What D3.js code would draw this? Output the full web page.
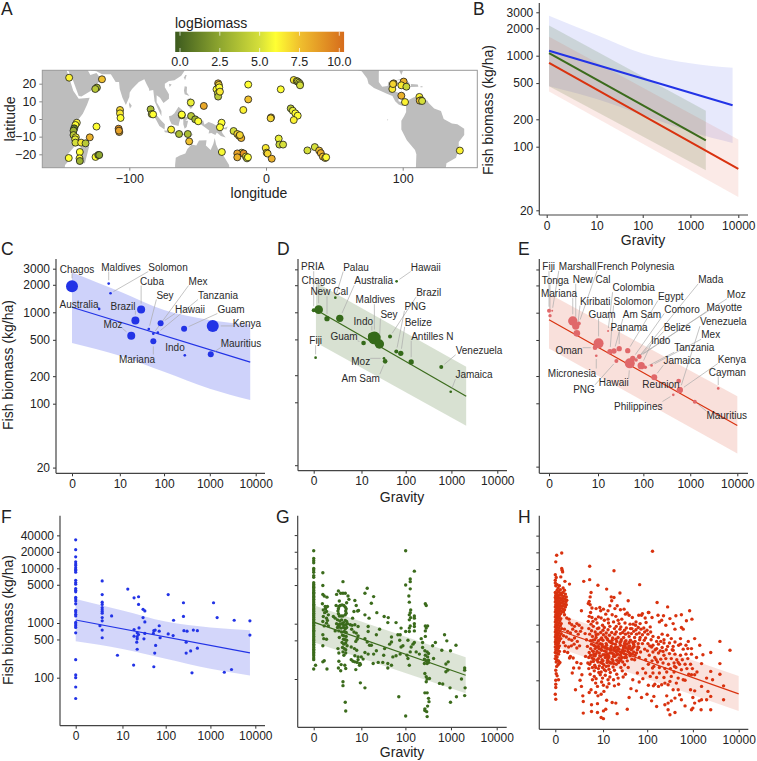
<!DOCTYPE html>
<html><head><meta charset="utf-8">
<script src="https://cdn.jsdelivr.net/npm/d3@7"></script>
<style>body{margin:0;background:#fff}svg{display:block}text{font-family:"Liberation Sans",Arial,sans-serif}</style>
</head><body><svg id="c" width="757" height="761"></svg>
<script>
// ---------- DATA ----------
const gravityTicks=[0,10,100,1000,10000];
const biomassTicksTop=[3000,2000,1000,500,200,100,20];
const biomassTicksBottom=[40000,20000,10000,5000,1000,500,100];
const lonTicks=[-100,0,100], latTicks=[20,10,0,-10,-20];
const legendTicks=[0,2.5,5,7.5,10];
const colourValues=[-0.3,2.5,5,6,7.5,10.3];
const colourStops=["#3c5a1e","#8ea62f","#d5df3a","#ffff33","#f0c02e","#d66c1c"];

// fitted lines and ribbons: gravity knots, fit, lower, upper
const coralGravity=[0,10,100,1000,7600];
const coralFit=[1135,769,539,389,285];
const coralUpper=[2750,1688,1060,825,735];
const coralLower=[462,334,223,146,110];
const rockyGravity=[0,2100];
const rockyFit=[1070,117];
const rockyUpper=[2150,248];
const rockyLower=[462,55];
const macroGravity=[0,10000];
const macroFit=[835,57];
const macroUpper=[1620,120];
const macroLower=[403,28];

// map: sites
const siteLon=[-144,-120,-123.7,-124.9,-106.8,-106.8,-106.4,-84.4,-83.6,-82.6,-138.4,-139.4,-140.3,-140.8,-140.8,-139.1,-139.6,-139.4,-135.2,-132,-128.9,-124,-136.2,-144.3,-136.4,-136.2,-124.7,-122.7,-122,-107.8,-107.3,-107.6,-69.4,-63.6,-57.2,-56.2,-55,-45.5,-61.6,-61.6,-54.8,-51.8,-49.6,-35,-34.5,-36.2,-34.2,-35.2,-35,-33.7,-32.5,-33.7,-32.3,-13,-13,-16.6,-23.7,-21,-19.6,-18.1,-19.1,-17.8,-21,-16.4,-21,-14.7,-13.9,-13.2,-0.2,0.5,1.2,4.2,3.7,3.4,10.8,20.3,22.5,23.2,24.2,24.9,24.9,18.1,19.6,21.5,23.2,20.3,9.3,9.8,12.5,30.3,35.7,38.9,40.1,41.6,43.3,44,93.4,92.4,100.7,99,102.7,92.9,99,101.7,112.2,113.4,112.5,114.2,141.8];
const siteLat=[23.4,22.5,17.8,17,5.1,3.2,0.6,5.5,2.8,2.6,-2.1,-3.4,-5.3,-6.6,-9.1,-10.4,-11.5,-13.4,-13.4,-13.8,-10.4,-4.3,-18.7,-22.1,-22.3,-23.8,-21.5,-20.4,-20.4,-5.5,-7.4,-6.6,-6,-8.5,-8.5,-12.7,9.3,7.4,2.1,2.5,1.7,-0.2,-1.3,20.2,19.3,16.8,17.9,14.5,12.7,15.5,-2.1,-4.7,-18.7,19.5,11.1,5.1,-6.8,-8.5,-9.6,-10.8,-9.1,-19.1,-19.5,-19.5,-21.7,-21.3,-22.3,-21.7,-16.4,-19.1,-19.6,-22.5,0.9,0.4,16.8,22.1,21.5,21.2,20.6,19.8,19.1,6,4.7,3.2,1.9,-0.6,-11.1,-14.5,-14.5,-17.8,-15.9,-17.9,-19.3,-21.3,-22.1,-21.7,20.2,17,21.2,19.1,18.3,19.8,13.2,9.6,12.5,10.6,10.4,10.2,-17.9];
const siteLogBiomass=[6.3,7.5,3.5,4,7,6.5,6,3.5,4.5,6,6.2,6,1,3,4,6,5.5,5,6.5,4,8,6,6,6,6,3,6,3,2.5,9,8,8.5,6.3,3.5,3.5,7.5,5.5,8.3,6.5,6,4,3,6,8,7,6,6,4.5,4,6.5,6,6,5.8,6,7.5,6.3,5,7,7,8,7,6.5,8.5,9,8,6.3,5,6,6.5,6.5,7,8,7.5,7,6,6.5,6.3,5,5,5.5,5,4,5.5,6,6,6.3,5.5,4.5,5,5,5,7.5,8,7.5,7,6,7.5,6.5,8,6.5,4.5,7,8,6.3,6.3,6.5,7.5,5,6.3];

// map: land outlines in [longitude, latitude], longitude centred on the date line
const land=[
[[-172,31],[-147,31],[-146,28],[-143,21],[-141,16],[-137,11.5],[-129,12],[-131,8],[-134,3],[-139,-2],[-140.5,-6],[-140,-10],[-139.5,-15],[-145,-20],[-144.5,-24],[-147,-26],[-147.5,-31],[-172,-31]],
[[-131,-12],[-129.5,-16],[-132.5,-25],[-136,-25],[-136.5,-21],[-135.5,-16]],
[[-145,31],[-145,28],[-141,21.5],[-137,13],[-135,12.8],[-128,16],[-120.5,22.5],[-124,26],[-128.5,25],[-130,27],[-132,31]],
[[-130,31],[-128,27.5],[-124,27],[-120,25.3],[-113.5,25.3],[-112,23.5],[-110,21],[-107.5,21],[-107,17],[-105,12],[-102.5,8],[-100,12.5],[-99.7,15],[-98,17],[-93,21],[-89,22.5],[-87.5,20],[-85.5,17],[-85.5,16],[-82.5,16.5],[-81.5,10],[-79.5,6.5],[-76.5,1.5],[-76.5,4.5],[-78,7],[-80,9.5],[-80,13.5],[-77.5,12],[-75,9],[-71,11.5],[-71,14],[-74,18],[-74,20],[-71,21.5],[-67,22],[-62,24.5],[-59,28],[-59,31]],
[[-100,9.5],[-98.2,7.5],[-99.5,6],[-100.2,8]],
[[-84.7,5.5],[-82,4],[-76.5,-1],[-74,-3],[-74.2,-6],[-78,-4],[-80,-1],[-83,3]],
[[-74.5,-6.5],[-70,-6.5],[-65.5,-7.5],[-65.5,-8.7],[-70,-8],[-74,-7.5]],
[[-64,-8.3],[-60,-8.3],[-60,-9],[-64,-9]],
[[-56,-9.5],[-53,-8.3],[-55,-10],[-56.5,-10.3]],
[[-71,1.5],[-69,2],[-67,3.3],[-64,7],[-61,5],[-62.3,1],[-63.5,-2],[-64,-4],[-69,-3],[-70.5,-0.5]],
[[-60.5,0],[-59.5,1],[-55,1.5],[-59,-1],[-57,-1],[-58,-4.5],[-59.5,-5.5],[-60.5,-3]],
[[-59.5,18.5],[-57.8,18.3],[-58,15],[-56,13],[-59.5,14],[-60,16]],
[[-58,7],[-54.5,9.5],[-53.5,7],[-55,5.7],[-57,7.5]],
[[-58,11],[-55,12],[-55,10.5],[-57.5,9.5]],
[[-59,25],[-58,25],[-59.2,22],[-60,23.5]],
[[-71,20],[-69,19.5],[-70.5,18.2]],
[[-52,1.5],[-51.5,1],[-52,-0.5],[-52.5,0]],
[[-49,-1],[-46,-0.8],[-45,-3.3],[-42,-1.7],[-39,-2.6],[-35,-4.3],[-32.5,-6],[-32,-8],[-29.5,-10.5],[-33,-9.7],[-36,-7.7],[-37,-9],[-40,-8],[-42,-8.2],[-41.5,-6.5],[-46,-4],[-48,-2.8]],
[[-32,-5.5],[-28,-4.2],[-29,-6]],
[[-23,-7],[-20,-9],[-20.5,-9.5],[-23.5,-7.5]],
[[-66.5,-31],[-66.5,-26],[-66,-22],[-63,-20.7],[-59,-19.5],[-57.5,-17],[-54.5,-14.5],[-51,-15],[-49,-12.2],[-43.5,-12],[-44,-15],[-40.5,-17.5],[-38.5,-14],[-37.5,-10.8],[-36.5,-14.5],[-34,-19],[-31,-21],[-29,-23.5],[-27,-26],[-26.5,-31]],
[[-16,-20],[-13,-22],[-14,-22.3]],
[[-2.5,-17.6],[-1.5,-18],[-2.2,-18.3]],
[[24,19.2],[25,20],[24.5,18.9]],
[[66,31],[66,28],[70,27],[74,23],[75,20],[79,17.5],[84,15.8],[88,14.5],[92.5,13],[94.5,10],[97,8.2],[100,7.3],[102,8],[102.5,7],[102.5,4],[101,1.5],[99,-1],[99,-6],[103,-12],[109,-17.5],[110,-20],[109.5,-31],[131.5,-31],[131.5,-28],[132,-25],[139,-22],[141,-17],[141,-13],[145,-9],[145,-5.5],[140,-3],[136,-2.5],[130,0],[128,4.5],[123,6],[119,9],[118,10.5],[112,11],[108.5,12.4],[105,11],[103,8.7],[100,9.3],[97,10],[96.5,15],[92,16],[92.5,21.5],[89.5,21],[89,18.7],[85,18.3],[82.5,21],[82.5,26],[83,31]],
[[96,31],[97.5,27.5],[99,25],[100,27],[100,31]],
[[95,22],[100,23],[105.5,20.3],[102.5,19.8],[98,22]],
[[106,19.8],[111,19.5],[111.5,18.3],[106,18.2]],
[[101.5,18.5],[103,18.5],[103,17.8],[101.5,17.8]],
[[113,18.5],[114.5,18.5],[114.5,18],[113,18]],
[[88.6,-0.2],[89.4,-0.3],[89,-1]]
];

// panel C
const cSites=["Chagos","Maldives","Solomon","Australia","Cuba","Brazil","Moz","Sey","Mariana","Hawaii","Mex","Tanzania","Guam","Indo","Mauritius","Kenya"];
const cGravity=[0,5.3,5.9,2.9,31,23,18.5,46,58,84,58,73,275,285,1050,1160];
const cBiomass=[1926,2060,1615,1088,1070,811,555,657,481,758,584,599,662,338,347,709];
const cSurveys=[36,1.8,1.8,1.8,16,16,16,1.8,9,9,1.8,1.8,9,1.8,9,36];
// panel D
const dSites=["Fiji","PRIA","Chagos","New Cal","Palau","Australia","Guam","Maldives","Sey","Indo","Hawaii","Brazil","PNG","Belize","Antilles N","Venezuela","Jamaica","Moz","Am Sam"];
const dGravity=[0.1,0,0.28,0.95,1.96,2.7,11.2,20,26,17.5,63,45,62,78,132,600,966,33,35];
const dBiomass=[313,1052,1070,850,1455,858,456,519,445,537,2208,537,366,350,281,247,131,308,285];
const dSurveys=[1.8,4,19,7,1.8,13.4,5.4,40,22,16,1.8,4,4,7,7,4,1.8,1.8,5.4];
// panel E
const eSites=["Fiji","Tonga","Marshall","Mariana","New Cal","Kiribati","French Polynesia","Guam","Oman","Micronesia","Colombia","Solomon","Am Sam","Panama","PNG","Hawaii","Egypt","Comoro","Mayotte","Belize","Moz","Mada","Indo","Mex","Tanzania","Jamaica","Reunion","Venezuela","Kenya","Cayman","Philippines","Mauritius"];
const eGravity=[0,0.05,0.17,2.2,2.7,2.9,3.3,10.3,8.5,9.1,17,18.7,23,30,26,51,46,59,82,82,51,70,90,150,110,171,566,600,600,3935,436,1250];
const eBiomass=[1052,927,1052,809,712,592,762,459,411,335,628,371,378,401,293,276,381,313,327,330,285,300,260,262,250,194,176,140,140,146,124,104];
const eSurveys=[4,2.8,1,22,13.4,11,4,25,5.4,1.8,1,7,7,7,4,25,7,7,5.4,3,9,3,13.4,1.8,3,9,5.4,9,9,1.8,1.8,4];

// panels F, G, H: one [log10(gravity+1), log10(biomass)] per reef site
const fReefs=[[0,4.52],[0,4.34],[0,4.21],[0,4.12],[0,4.08],[0,4.05],[0,4.01],[0,3.98],[0,3.96],[0,3.93],[0,3.78],[0,3.74],[0,3.71],[0,3.63],[0,3.6],[0,3.57],[0,3.47],[0,3.44],[0,3.4],[0,3.35],[0,3.23],[0,3.2],[0,3.16],[0,3.13],[0,3.01],[0,2.98],[0,2.95],[0,2.92],[0,2.82],[0,2.33],[0,2.05],[0,2],[0,1.83],[0,1.62],
[.59,3.77],[.59,3.52],[.59,3.38],[.59,3.34],[.59,3.28],[.59,3.24],[.59,3.21],[.59,3.18],[.59,3.1],[.59,3.04],[.59,2.87],[.59,2.73],[.54,2.95],[.8,3.13],[.93,2.41],[1.16,3.62],[1.3,3.46],[1.4,3.48],[1.4,3.34],[1.5,3.25],[1.54,3.22],[1.5,3.1],[1.54,3.02],[1.3,2.88],[1.41,2.91],[1.3,2.76],[1.29,2.23],[1.37,2.82],[1.4,2.79],[1.37,2.75],[1.37,2.71],[1.36,2.65],[1.37,2.52],[1.54,2.81],[1.52,2.71],[1.73,2.81],[1.74,2.86],[1.77,2.87],[1.86,2.85],[1.86,2.95],[1.88,2.73],[1.78,2.59],[1.76,2.45],[1.74,2.2],[2.06,3.52],[2.06,2.8],[2.18,3.05],[2.17,2.77],[2.4,3.37],[2.4,3.12],[2.41,2.86],[2.48,2.85],[2.46,2.65],[2.46,2.45],[2.56,2.49],[2.59,2.09],[2.62,2.87],[2.71,2.86],[2.71,2.54],[3.07,3.37],[3.15,3.1],[3.31,2.1],[3.47,2.15],[3.53,3.05],[3.88,3.04],[3.88,2.78]];

const gReefs=[[0,4.32],[0,4.18],[0,4.14],[0,4.1],[0,4],[0,3.97],[0,3.93],[0,3.87],[0,3.84],[0,3.74],[0,3.71],[0,3.68],[0,3.66],[0,3.63],[0,3.6],[0,3.57],[0,3.55],[0,3.52],[0,3.49],[0,3.47],[0,3.44],[0,3.41],[0,3.38],[0,3.35],[0,3.33],[0,3.3],[0,3.27],[0,3.25],[0,3.22],[0,3.19],[0,3.16],[0,3.14],[0,3.11],[0,3.08],[0,3.05],[0,3.02],[0,3],[0,2.97],[0,2.94],[0,2.91],[0,2.88],[0,2.86],[0,2.83],[0,2.8],[0,2.77],[0,2.74],[0,2.71],[0,2.69],[0,2.66],[0,2.63],[0,2.6],[0,2.57],[0,2.54],[0,2.51],[0,2.48],[0,2.45],[0,2.42],[0,2.38],[0,2.35],[0,2.18],
[.2,3.92],[.2,3.69],[.2,3.53],[.23,3.5],[.29,3.48],[.19,3.36],[.25,3.31],[.3,3.31],[.21,3.25],[.28,3.22],[.32,3.16],[.21,3.13],[.28,3.1],[.2,3.04],[.28,3.01],[.23,2.96],[.32,2.96],[.2,2.8],[.22,2.73],[.28,2.72],[.2,2.6],[.23,2.33],[.2,2.31],[.29,2.18],[.04,2.25],[.26,3.27],[.24,3.2],[.3,3.06],
[.5,3.53],[.54,3.59],[.64,3.76],[.64,3.55],[.69,3.55],[.59,3.55],[.75,3.5],[.56,3.41],[.49,3.33],[.55,3.31],[.58,3.33],[.62,3.34],[.66,3.33],[.69,3.3],[.71,3.27],[.7,3.23],[.71,3.19],[.69,3.16],[.64,3.14],[.6,3.14],[.56,3.14],[.54,3.18],[.53,3.23],[.54,3.27],[.43,3.13],[.47,3.1],[.52,3.07],[.57,3.05],[.61,3.07],[.65,3.02],[.69,3.06],[.72,3.04],[.5,3],[.54,2.98],[.58,2.99],[.62,3],[.66,2.97],[.7,2.98],[.74,3],[.52,2.93],[.56,2.94],[.6,2.92],[.65,2.93],[.69,2.91],[.72,2.93],[.47,2.87],[.55,2.87],[.61,2.85],[.67,2.86],[.71,2.84],[.63,2.79],[.67,2.78],[.71,2.77],[.56,2.75],[.65,2.72],[.69,2.71],[.72,2.7],[.62,2.66],[.66,2.63],[.7,2.65],[.73,2.6],[.63,2.57],[.67,2.55],[.7,2.53],[.53,2.55],[.55,2.47],[.64,2.49],[.66,2.43],[.7,2.47],[.55,2.32],[.54,2.2],[.6,2.26],[.59,2.15],[.68,2.25],[.7,2.19],[.64,1.95],[.64,1.88],[.69,1.58],[.7,1.42],
[.77,3.44],[.72,3.38],[.9,3.42],[.93,3.33],[.98,3.24],[.96,3.23],[.88,3.22],[.85,3.1],[.8,2.98],[.84,2.97],[.9,2.98],[.97,2.95],[.83,2.9],[.88,2.85],[.93,2.83],[.97,2.78],[.95,2.72],[.92,2.68],[.82,2.58],[.89,2.55],[.94,2.52],[.9,2.42],[.97,2.4],[.82,2.35],[.86,2.32],[.9,2.31],[.95,2.3],[.92,2.17],[1.02,2.26],[1,2.25],[.97,2.35],[1.02,1.93],[1.12,1.84],
[1.17,3.64],[1.12,3.55],[1.31,3.49],[1.26,3.37],[1.38,3.2],[1.12,3.16],[1.21,3.1],[1.54,3.13],[1.63,3.11],[1.8,3.02],[1.62,3.02],[1.19,2.95],[1.19,2.86],[1.44,2.9],[1.37,2.8],[1.12,2.73],[1.17,2.67],[1.22,2.61],[1.26,2.61],[1.37,2.51],[1.31,2.45],[1.19,2.45],[1.12,2.48],[1.04,2.4],[1.08,2.36],[1.01,2.28],[1.3,2.28],[1.41,2.3],[1.51,2.3],[1.62,2.28],[1.7,2.25],[1.62,2.2],[1.55,2.55],[1.53,2.43],[1.7,2.67],[1.7,2.76],[1.66,2.63],[1.73,2.4],[1.8,2.42],[1.84,2.8],[1.89,2.8],[1.88,2.7],[1.91,2.92],[2.01,2.86],[2.09,2.86],[1.91,2.58],[1.95,2.6],[1.89,2.45],[2.04,2.43],[2.06,2.37],[2.09,2.25],[2.11,2.49],[2.13,2.58],[2.17,2.63],[2.2,2.66],[2.24,2.49],[2.31,2.45],[2.06,2.7],
[2.01,4.32],[2.2,3.95],[2.11,3.81],[2.11,3.76],[2.01,3.7],[2.11,3.63],[2.08,3.5],[2.09,3.39],[2.12,3.25],[2.11,3.2],[2.09,3.16],[2.12,3.11],[2.09,3.07],[2.2,3.14],[2.2,3.1],[2.2,3],[2.2,2.95],[2.11,2.96],[2.09,2.92],[2.2,2.87],
[2.44,3.36],[2.46,3.33],[2.44,2.96],[2.49,2.96],[2.46,2.92],[2.44,2.87],[2.44,2.77],[2.35,2.73],[2.38,2.66],[2.38,2.57],[2.43,2.51],[2.48,2.49],[2.51,2.46],[2.44,2.43],[2.49,2.4],[2.42,2.36],[2.46,2.33],[2.51,2.34],[2.48,2.28],[2.42,2.28],[2.51,2.3],[2.43,2.1],[2.46,2.04],[2.48,2],[2.53,2.01],[2.46,1.95],[2.43,1.75],[2.48,1.75],[2.51,1.65],[2.52,1.59],[2.49,1.51],[2.43,1.46],[2.47,1.41],[2.43,1.43],[2.48,1.32],[2.01,1.33],[1.86,1.68],
[2.66,2.66],[2.6,2.6],[2.8,2.52],[2.62,2.37],[2.86,2.8],[2.91,2.69],[3.11,2.61],[2.99,2.51],[2.94,2.31],[2.89,2.27],[2.89,2.13],[2.93,2.16],[2.75,1.92],[2.82,1.91],[2.98,1.84],[2.99,1.58],[3.12,1.68],[3.23,2],[3.3,2.2],[3.3,2.16],[3.31,1.84],[3.3,1.7]];

const hReefs=[[.03,4.25],[.14,4.29],[.01,4.13],[.14,4.01],[.16,3.95],[.15,3.98],[0,3.9],[.12,3.86],[.21,3.78],[0,3.8],[.31,3.73],[.02,3.85],[0,3.75],[.09,3.7],[.17,3.66],[.01,3.7],[.04,3.72],[.2,3.62],[.06,3.66],[.04,3.62],[.11,3.63],
[0,3.58],[.03,3.56],[.07,3.59],[.12,3.57],[.17,3.58],[.22,3.55],[.01,3.53],[.05,3.52],[.09,3.54],[.14,3.53],[.19,3.51],[.24,3.5],[0,3.49],[.03,3.48],[.07,3.49],[.11,3.48],[.16,3.47],[.21,3.46],[.25,3.44],[.01,3.45],[.05,3.44],[.09,3.43],[.13,3.44],[.18,3.42],[.23,3.41],[0,3.41],[.03,3.4],[.07,3.39],[.11,3.38],[.15,3.39],[.2,3.37],[.24,3.36],[.01,3.36],[.05,3.35],[.09,3.34],[.13,3.33],[.17,3.34],[.22,3.32],[0,3.32],[.03,3.31],[.07,3.3],[.11,3.29],[.16,3.29],[.2,3.27],[.01,3.27],[.05,3.26],[.09,3.25],[.14,3.24],[.18,3.23],[0,3.23],[.03,3.22],[.07,3.21],[.12,3.2],
[.01,3.18],[.05,3.17],[.09,3.16],[0,3.14],[.03,3.13],[.07,3.12],[.12,3.11],[.01,3.09],[.05,3.08],[.1,3.07],[0,3.05],[.03,3.04],[.08,3.03],[.13,3.02],[.01,3],[.06,2.99],[.11,2.98],[0,2.96],[.03,2.95],[.08,2.94],[.14,2.93],[.01,2.91],[.05,2.9],[.1,2.89],[0,2.87],[.03,2.86],[.07,2.85],[.13,2.84],[.01,2.82],[.05,2.81],[.1,2.8],[0,2.78],[.03,2.77],[.07,2.76],[.12,2.75],[.01,2.73],[.05,2.72],[.09,2.71],[0,2.69],[.03,2.68],[.07,2.67],[.01,2.65],[.05,2.63],[.09,2.62],[0,2.6],[.03,2.59],[.07,2.58],[.01,2.55],[.05,2.54],[.09,2.52],[0,2.5],[.03,2.49],[.07,2.47],[.01,2.44],[.04,2.42],[0,2.39],[.03,2.37],[.07,2.35],[.02,2.33],[.1,2.32],[.08,2.3],[.06,2.28],[.03,2.25],[.01,2.18],[.01,2],[.07,2.01],[.01,1.93],[.01,1.87],[0,1.75],[.01,1.66],[.04,2.08],[.02,2.12],
[.2,3.18],[.25,3.12],[.31,3.03],[.3,3.1],[.36,3],[.42,2.97],[.47,3.02],[.52,2.99],[.58,2.94],[.2,2.92],[.27,2.88],[.33,2.85],[.38,2.92],[.45,2.88],[.5,2.83],[.55,2.88],[.18,2.8],[.24,2.78],[.3,2.74],[.36,2.72],[.42,2.76],[.48,2.7],[.18,2.68],[.22,2.62],[.29,2.6],[.35,2.62],[.41,2.65],[.47,2.58],[.53,2.62],[.2,2.52],[.27,2.5],[.33,2.43],[.39,2.4],[.4,2.22],[.31,2.4],[.37,2.13],[.44,1.83],[.54,2],[.57,1.89],[.6,1.72],[.52,2.22],[.58,2.1],[.47,2.32],[.56,2.3],
[.57,3.25],[.62,3.78],[.75,4.05],[.75,3.81],[.93,3.71],[1.12,3.64],[1.28,3.97],[1.84,3.72],[1.41,3.57],[1.22,3.5],[1.28,3.49],[1.59,3.43],[2.12,4.32],[.89,3.29],[.97,3.31],[.99,3.25],[1.05,3.28],[1.1,3.19],[1.15,3.25],[1.19,3.34],[1.23,3.43],[.78,3.58],[.76,3.5],[.74,3.42],[.72,3.38],[.76,3.36],[.8,3.3],[.77,3.22],[.74,3.15],[.8,3.13],[.72,3.06],[.82,3.06],[.88,3.1],[.94,3.14],[1,3.12],[1.07,3.08],[1.15,3.1],[1.24,3.18],[1.32,3.15],[1.37,3.08],[1.45,3.1],[1.53,3.19],[1.61,3.17],[1.68,3.13],[1.76,3.05],[1.3,3.29],[1.35,3.34],[1.42,3.27],[1.5,3.28],[1.57,3.21],[1.7,3.01],[1.82,3.17],[1.9,3.2],[1.96,3.12],[2.03,3.22],
[.78,3.01],[.83,2.97],[.91,3.03],[.95,2.94],[1.03,2.99],[1.07,2.95],[1.16,3.03],[1.19,2.97],[1.27,3.05],[1.33,2.97],[1.39,3.02],[1.43,2.96],[1.52,3.03],[1.55,2.94],[1.63,3.01],[1.67,2.93],[1.75,2.99],[1.81,2.95],[1.85,3.02],[1.93,2.94],[1.98,3.04],[.73,2.93],[.79,2.89],[.87,2.87],[.92,2.93],[.99,2.86],[1.04,2.9],[1.11,2.85],[1.15,2.91],[1.23,2.86],[1.29,2.93],[1.33,2.87],[1.41,2.92],[1.47,2.86],[1.51,2.9],[1.59,2.85],[1.64,2.93],[1.71,2.88],[1.76,2.91],[1.83,2.85],[1.87,2.92],[1.95,2.87],[2,2.9],[2.07,2.96],[.65,2.84],[.75,2.83],[.81,2.79],[.89,2.77],[.93,2.83],[1.01,2.76],[1.05,2.82],[1.13,2.75],[1.18,2.81],[1.25,2.76],[1.3,2.83],[1.37,2.77],[1.42,2.84],[1.49,2.77],[1.53,2.83],[1.61,2.79],[1.66,2.84],[1.73,2.77],[1.77,2.83],[1.85,2.77],[1.9,2.82],[1.97,2.76],[2.02,2.83],[2.08,2.87],
[.68,2.73],[.77,2.71],[.79,2.65],[.86,2.73],[.91,2.67],[.94,2.71],[1.02,2.65],[1.04,2.72],[1.11,2.66],[1.14,2.73],[1.21,2.68],[1.24,2.72],[1.31,2.65],[1.34,2.7],[1.41,2.67],[1.44,2.73],[1.51,2.66],[1.54,2.71],[1.61,2.68],[1.64,2.72],[1.71,2.65],[1.74,2.7],[1.81,2.66],[1.84,2.73],[.7,2.61],[.77,2.57],[.84,2.63],[.87,2.57],[.94,2.61],[.99,2.56],[1.02,2.6],[1.09,2.59],[1.12,2.63],[1.19,2.56],[1.22,2.61],[1.29,2.58],[1.32,2.6],[1.39,2.56],[1.42,2.63],[1.49,2.59],[1.52,2.61],[1.59,2.56],[1.62,2.62],[1.69,2.58],[1.72,2.61],[1.79,2.55],[1.82,2.59],[1.9,2.66],[.74,2.5],[.81,2.53],[.84,2.47],[.91,2.52],[.96,2.49],[1.01,2.54],[1.04,2.46],[1.11,2.51],[1.14,2.47],[1.21,2.54],[1.24,2.49],[1.31,2.53],[1.34,2.46],[1.41,2.51],[1.44,2.49],[1.51,2.53],[1.54,2.46],[1.61,2.5],[1.64,2.48],[1.71,2.51],[1.74,2.45],[1.86,2.51],[1.95,2.56],
[.66,2.43],[.73,2.41],[.77,2.45],[.84,2.38],[.87,2.44],[.94,2.39],[.99,2.43],[1.02,2.37],[1.09,2.41],[1.14,2.36],[1.17,2.42],[1.24,2.38],[1.27,2.43],[1.34,2.36],[1.39,2.4],[1.43,2.37],[1.51,2.41],[1.57,2.35],[1.67,2.38],[1.73,2.37],[1.83,2.41],[.71,2.31],[.75,2.29],[.83,2.34],[.86,2.27],[.93,2.33],[.96,2.26],[1.03,2.3],[1.06,2.28],[1.13,2.32],[1.16,2.26],[1.23,2.31],[1.26,2.24],[1.33,2.29],[1.43,2.23],[1.51,2.28],[1.59,2.23],[.73,2.21],[.81,2.23],[.85,2.17],[.94,2.21],[1,2.15],[1.07,2.19],[1.1,2.17],[1.17,2.2],[1.2,2.14],[1.29,2.18],[1.34,2.11],[1.46,2.17],[1.53,2.11],[.76,2.11],[.85,2.07],[.89,2.03],[.98,2.1],[1.03,2.04],[1.09,2.09],[1.15,2.01],[1.19,2.06],[1.27,2.01],[1.37,2.04],[1.48,2.06],[.81,2.01],[.88,1.95],[.92,1.89],[1.01,1.97],[1.05,1.91],[1.13,1.88],[1.17,1.94],[1.29,1.9],[1.38,1.93],
[.86,2.62],[.98,2.66],[1.07,2.53],[1.13,2.56],[1.16,2.44],[1.28,2.54],[1.36,2.59],[1.47,2.55],[1.25,2.66],[.97,2.44],[.91,2.36],[.99,2.32],[1.08,2.46],[1.19,2.49],[1.26,2.35],[1.3,2.43],[1.36,2.47],[1.42,2.45],[1.46,2.52],[1.49,2.62],[1.56,2.65],[1.58,2.52],[1.66,2.55],[1.22,2.58],[1.06,2.6],[1.04,2.35],[1.15,2.39],[1.2,2.31],[1.12,2.43],[.95,2.57],[.89,2.48],[.83,2.52],[.8,2.4],[.78,2.33],[.88,2.23],[.95,2.14],[1.03,2.23],[1.11,2.25],[1.18,2.33],[1.28,2.3],[1.38,2.32],[1.47,2.33],[1.55,2.41],[1.63,2.44],[1.68,2.47],[1.77,2.49],[1.8,2.6],[1.69,2.68],[1.6,2.6],[1.52,2.69],[1.43,2.7],[1.32,2.74],[1.18,2.7],[1.1,2.78],[.99,2.74],[.89,2.82],[1.35,2.54],[1.27,2.47],[1.4,2.35],[1.33,2.51],[1.45,2.41],[1.5,2.48],[1.54,2.58],[1.64,2.57],[1.7,2.6],[.82,2.72],[.9,2.6],[.84,2.44],
[.78,1.83],[.88,1.78],[.93,1.72],[1,1.75],[1.06,1.8],[.61,1.62],[.79,1.56],[.92,1.58],[.74,1.78],[1.12,1.64],[1.32,1.59],[1.05,1.45],[1.1,1.48],[1.35,1.4],[1.57,1.48],[.61,1.41],[.79,1.44],[.92,1.42],[1,1.33],[1.05,1.31],[1.24,1.6],
[2.04,3.22],[1.88,3.17],[2.11,3.13],[2.22,3.4],[2.45,3.32],[2.93,3.25],[2.75,3.18],[2.98,3.1],[2.86,3.07],[2.63,3.16],[2.5,3.11],[2.36,3.16],[2.24,3.17],[2.32,3.08],[2.27,3.05],[2.41,2.99],[2.57,3.02],[2.61,2.92],[2.75,2.95],[2.79,2.92],[2.53,2.75],[2.73,2.75],[3.04,2.75],[2.9,2.7],[3.15,2.63],[2.97,2.57],[2.79,2.56],[2.57,2.54],[3.39,2.5],[3.59,2.7],[3.81,2.54],[3.59,2.3],[3.19,2.3],[3.08,2.41],[3.22,2.46],[3.39,2.16],[3.59,2.11],[3.3,2.04],[3.43,2.01],[3.67,1.9],[3.67,1.65],[3.39,1.71],[3.39,1.47],[3.33,1.8],[3.3,1.65],[3.19,1.65],[3.14,1.63],[3.18,1.47],[3.04,1.59],[3,1.69],[2.97,1.47],[3,1.5],[3.04,1.81],[2.95,1.83],[3.19,1.89],[2.97,2.1],[3.04,2.1],[2.79,2.01],[2.83,2],[2.68,2.04],[2.64,1.95],[2.68,1.83],[2.71,1.74],[2.75,1.65],[2.83,1.54],[2.61,1.68],[2.53,1.63],[2.46,1.59],[2.39,1.56],[2.46,1.47],[2.5,1.38],[2.61,1.42],[2.21,1.53],[2.1,1.63],[2.15,1.71],[2,1.75],[1.88,1.69],[2.43,1.72],[2.57,1.83],[2.5,1.98],[2.46,1.92],[2.39,1.95],[2.32,1.92],[2.25,1.89],[2.17,1.93],[2.14,1.9],
[2.09,2.73],[2.13,2.79],[2.21,2.7],[2.25,2.77],[2.33,2.83],[2.37,2.73],[2.45,2.81],[2.13,2.63],[2.21,2.57],[2.25,2.65],[2.33,2.59],[2.37,2.67],[2.45,2.61],[2.49,2.67],[2.57,2.61],[2.61,2.69],[2.69,2.63],[2.73,2.65],[2.85,2.63],[2.89,2.57],[2.01,2.53],[2.05,2.45],[2.13,2.51],[2.17,2.41],[2.25,2.49],[2.29,2.53],[2.37,2.45],[2.41,2.39],[2.49,2.48],[2.53,2.39],[2.61,2.47],[2.65,2.37],[2.73,2.45],[2.77,2.37],[2.85,2.47],[2.89,2.39],[2.97,2.47],[1.97,2.37],[2.03,2.29],[2.11,2.35],[2.15,2.25],[2.23,2.33],[2.27,2.23],[2.35,2.31],[2.39,2.21],[2.47,2.29],[2.51,2.21],[2.59,2.31],[2.63,2.23],[2.71,2.29],[2.75,2.19],[2.83,2.29],[2.87,2.21],[2.95,2.29],[2.99,2.21],[1.91,2.21],[1.97,2.13],[2.07,2.07],[2.13,2.13],[2.21,2.05],[2.27,2.13],[2.37,2.05],[2.43,2.15],[2.53,2.07],[2.59,2.15],[2.91,2.11],[3.09,2.15],[1.79,2.13],[1.69,2.01],[1.83,1.97],[1.91,2.03],[2.03,1.91],[1.65,1.85],[1.77,1.81],[1.61,1.69],
[2.1,2.6],[2.18,2.55],[2.06,2.62],[2.3,2.7],[2.42,2.55],[2.55,2.55],[2.2,2.37],[2.3,2.38],[2.12,2.22],[2.6,2.25],[2.68,2.32],[2.35,2.52],[2.02,2.66],[1.94,2.72]];

// ---------- DRAWING ----------
const svg=d3.select("#c");
const FONT_TICK=12, INK="#222";
const blue="#2233e6", green="#3b6b1c", red="#d9320f";
const colour=d3.scaleLinear().domain(colourValues).range(colourStops);

function caption(x,y,t,size,anchor,rot){
  const e=svg.append("text").attr("font-size",size).attr("fill",INK).attr("text-anchor",anchor||"middle").text(t);
  if(rot) e.attr("transform",`translate(${x},${y}) rotate(-90)`); else e.attr("x",x).attr("y",y);
  return e;
}
[["A",1,15],["B",473,15],["C",1,255],["D",277,255],["E",518,255],["F",1,523],["G",276,523],["H",518,523]]
  .forEach(d=>caption(d[1],d[2],d[0],17.5,"start"));

function panel(o){
  const x=d3.scaleLog().domain([1,10001]).range([o.x0,o.x4]);
  const y=d3.scaleLog().domain([100,1000]).range([o.y100,o.y1000]);
  const g=svg.append("g");
  const px=k=>x(k+1);
  o.fits.forEach(f=>{
    const kn=f.gravity.map((v,i)=>({x:i==0?(o.start||0):v,lo:f.lower[i],hi:f.upper[i]}));
    g.append("path").attr("d",d3.area().curve(d3.curveMonotoneX).x(d=>px(d.x)).y0(d=>y(d.lo)).y1(d=>y(d.hi))(kn))
      .attr("fill",f.colour).attr("fill-opacity",f.alpha);
  });
  o.fits.forEach(f=>{
    const n=f.gravity.length;
    const ln=[{x:o.start||0,v:f.fit[0]},{x:f.gravity[n-1],v:f.fit[f.fit.length-1]}];
    g.append("path").attr("d",d3.line().x(d=>px(d.x)).y(d=>y(d.v))(ln))
      .attr("fill","none").attr("stroke",f.colour).attr("stroke-width",o.lw||1.2);
  });
  const ax=svg.append("g").attr("transform",`translate(0,${o.axisY})`)
    .call(d3.axisBottom(x).tickValues(gravityTicks.map(v=>v+1)).tickFormat(v=>v-1).tickSize(3).tickPadding(3));
  ax.select(".domain").remove();
  const ay=svg.append("g").attr("transform",`translate(${o.axisX},0)`)
    .call(d3.axisLeft(y).tickValues(o.yTicks).tickFormat(o.yLabels?(v=>v):"").tickSize(3).tickPadding(3));
  ay.select(".domain").remove();
  [ax,ay].forEach(a=>{a.selectAll("text").attr("font-size",FONT_TICK).attr("font-family",'"Liberation Sans"').attr("fill",INK);
    a.selectAll("line").attr("stroke","#333");});
  svg.append("line").attr("x1",o.axisX).attr("x2",o.axisX).attr("y1",o.top).attr("y2",o.axisY).attr("stroke","#444").attr("stroke-width",1.2);
  svg.append("line").attr("x1",o.axisX).attr("x2",o.right).attr("y1",o.axisY).attr("y2",o.axisY).attr("stroke","#444").attr("stroke-width",1.2);
  return {x,y,px,g};
}
const size=d3.scaleSqrt().domain([0,36]).range([0,6]);
function bubbles(p,names,gr,bio,wt,colr,labelAt,opacity){
  const data=names.map((n,i)=>({n,cx:p.px(gr[i]),cy:p.y(bio[i]),r:size(wt[i])}));
  const leaders=p.g.append("g"), dots=p.g.append("g"), texts=p.g.append("g");
  dots.selectAll("circle").data(data).join("circle").attr("cx",d=>d.cx).attr("cy",d=>d.cy).attr("r",d=>d.r).attr("fill",colr).attr("fill-opacity",opacity||1);
  data.forEach(d=>{
    const at=labelAt[d.n]; if(!at) return;
    const t=texts.append("text").attr("x",at[0]).attr("y",at[1]).attr("dy",".35em").attr("text-anchor","middle").attr("font-size",10).attr("fill","#2a2a2a").text(d.n);
    const b=t.node().getBBox();
    const sx=Math.max(b.x,Math.min(d.cx,b.x+b.width)), sy=Math.max(b.y+1,Math.min(d.cy,b.y+b.height-1));
    const dist=Math.hypot(d.cx-sx,d.cy-sy), gap=d.r+2;
    if(dist>gap+2){
      leaders.append("line").attr("x1",sx).attr("y1",sy)
        .attr("x2",d.cx-(d.cx-sx)/dist*gap).attr("y2",d.cy-(d.cy-sy)/dist*gap)
        .attr("stroke","#aaa").attr("stroke-width",.7);
    }
  });
}
function scatter(p,rows,colr,r){
  p.g.append("g").selectAll("circle").data(rows).join("circle")
    .attr("cx",d=>p.x(Math.pow(10,d[0]))).attr("cy",d=>p.y(Math.pow(10,d[1]))).attr("r",r).attr("fill",colr);
}
const coral=a=>({gravity:coralGravity,fit:coralFit,upper:coralUpper,lower:coralLower,colour:blue,alpha:a});
const rocky=a=>({gravity:rockyGravity,fit:rockyFit,upper:rockyUpper,lower:rockyLower,colour:green,alpha:a});
const macro=a=>({gravity:macroGravity,fit:macroFit,upper:macroUpper,lower:macroLower,colour:red,alpha:a});

// A: map
(function(){
  const L=42.3,R=477.3,T=70.3,B=167.7;
  const x=d3.scaleLinear().domain([0,100]).range([266,402.7]);
  const y=d3.scaleLinear().domain([0,20]).range([119,83.7]);
  svg.append("clipPath").attr("id","mapclip").append("rect").attr("x",L).attr("y",T).attr("width",R-L).attr("height",B-T);
  const line=d3.line().x(d=>x(d[0])).y(d=>y(d[1]));
  svg.append("g").attr("clip-path","url(#mapclip)").selectAll("path").data(land).join("path").attr("d",d=>line(d)+"Z").attr("fill","#bdbdbd");
  svg.append("rect").attr("x",L).attr("y",T).attr("width",R-L).attr("height",B-T).attr("fill","none").attr("stroke","#999").attr("stroke-width",1);
  svg.append("g").selectAll("circle").data(siteLon.map((d,i)=>i)).join("circle")
    .attr("cx",i=>x(siteLon[i])).attr("cy",i=>y(siteLat[i])).attr("r",3.5)
    .attr("fill",i=>colour(siteLogBiomass[i])).attr("stroke","#1a1a1a").attr("stroke-width",.8);
  const ax=svg.append("g").attr("transform",`translate(0,${B})`).call(d3.axisBottom(x).tickValues(lonTicks).tickSize(3).tickPadding(3));
  const ay=svg.append("g").attr("transform",`translate(${L},0)`).call(d3.axisLeft(y).tickValues(latTicks).tickSize(3).tickPadding(3));
  [ax,ay].forEach(a=>{a.select(".domain").remove();a.selectAll("text").attr("font-size",12.5).attr("font-family",'"Liberation Sans"').attr("fill",INK);a.selectAll("line").attr("stroke","#888");});
  caption(259,197.5,"longitude",14);
  caption(15,119,"latitude",14,"middle",true);
  // legend
  const lx=d3.scaleLinear().domain([0,10]).range([180,339.3]);
  const grad=svg.append("defs").append("linearGradient").attr("id","bar");
  colourValues.forEach((v,i)=>grad.append("stop").attr("offset",(lx(v)-lx(-0.3))/(lx(10.3)-lx(-0.3))).attr("stop-color",colourStops[i]));
  svg.append("rect").attr("x",lx(-0.3)).attr("y",31.7).attr("width",lx(10.3)-lx(-0.3)).attr("height",20.3).attr("fill","url(#bar)");
  const lg=svg.append("g").selectAll("g").data(legendTicks).join("g");
  lg.append("line").attr("x1",d=>lx(d)).attr("x2",d=>lx(d)).attr("y1",31.7).attr("y2",35.7).attr("stroke","#fff").attr("stroke-width",.7);
  lg.append("line").attr("x1",d=>lx(d)).attr("x2",d=>lx(d)).attr("y1",48).attr("y2",52).attr("stroke","#fff").attr("stroke-width",.7);
  lg.append("text").attr("x",d=>lx(d)).attr("y",65.5).attr("text-anchor","middle").attr("font-size",12.5).attr("fill",INK).text(d=>d.toFixed(1));
  caption(175,28,"logBiomass",14,"start");
})();

// B
panel({x0:546.7,x4:738.3,y100:146.7,y1000:55.7,axisX:539.3,axisY:215,top:3,right:748,start:.12,lw:2,yLabels:true,yTicks:biomassTicksTop,
  fits:[coral(.11),rocky(.16),macro(.1)]});
caption(493,110,"Fish biomass (kg/ha)",14,"middle",true);
caption(643,245,"Gravity",14);

// C
const pC=panel({x0:72,x4:255.7,y100:403.7,y1000:312.3,axisX:56,axisY:473.3,top:259,right:265,lw:1.2,yLabels:true,yTicks:biomassTicksTop,fits:[coral(.22)]});
bubbles(pC,cSites,cGravity,cBiomass,cSurveys,blue,{Chagos:[77,269],Maldives:[121,267],Solomon:[168,267],Cuba:[152,281],Mex:[198,281],Sey:[165,295],Tanzania:[218,295],Australia:[79,304],Brazil:[123,306],Hawaii:[190,309],Guam:[231,309],Kenya:[247,323],Moz:[113,324],Mauritius:[241,343],Indo:[175,347],Mariana:[137,359]});
caption(13,365,"Fish biomass (kg/ha)",14,"middle",true);

// D
const pD=panel({x0:313.7,x4:497.3,y100:402.3,y1000:312.3,axisX:298,axisY:470.7,top:259,right:507,start:.12,yLabels:false,yTicks:biomassTicksTop,fits:[rocky(.2)]});
bubbles(pD,dSites,dGravity,dBiomass,dSurveys,"#356a1a",{PRIA:[312.7,266.7],Palau:[356,267],Hawaii:[425.7,267],Chagos:[318.7,280.3],Australia:[373.7,280.7],"New Cal":[329.3,291.7],Brazil:[428.7,292.3],Maldives:[375.3,299.7],PNG:[415.3,306.3],Sey:[389,314],Indo:[363.3,321.3],Belize:[418.3,322.3],Guam:[344,336.3],"Antilles N":[432.3,336.3],Fiji:[315.7,340.7],Venezuela:[479,350.3],Moz:[360.7,361.7],Jamaica:[474,374.7],"Am Sam":[360.7,378.7]});
caption(402,502,"Gravity",14);

// E
const pE=panel({x0:549,x4:737.3,y100:403.3,y1000:312.7,axisX:539.3,axisY:473.3,top:259,right:748,yLabels:false,yTicks:biomassTicksTop,fits:[macro(.15)]});
bubbles(pE,eSites,eGravity,eBiomass,eSurveys,"#e0686a",{Fiji:[548.7,266.7],Marshall:[577.7,266.3],"French Polynesia":[635.7,266.3],Tonga:[555.3,280],"New Cal":[591.7,279.3],Mada:[710.7,279.3],Colombia:[633.7,287.7],Mariana:[559,293.3],Moz:[736.3,294.3],Egypt:[670.7,296],Kiribati:[595.3,301],Solomon:[633.3,301],Comoro:[682,309],Mayotte:[724.3,307],Guam:[602,314],"Am Sam":[642,314.3],Venezuela:[723.3,321.7],Panama:[629,327.3],Belize:[677.3,327],Mex:[710.7,334.7],Indo:[660.7,340],Tanzania:[694.3,347.7],Oman:[569,350.7],Jamaica:[682,360.7],Kenya:[732,359],Cayman:[727.3,372],Micronesia:[572,373],Hawaii:[613.7,382.7],Reunion:[661,384.3],PNG:[584,389.3],Philippines:[638.3,406],Mauritius:[726.7,415.7]});

// F
const pF=panel({x0:75.7,x4:255.3,y100:677.7,y1000:623,axisX:60,axisY:725.7,top:515.7,right:265,yLabels:true,yTicks:biomassTicksBottom,fits:[coral(.2)]});
scatter(pF,fReefs,blue,1.6);
caption(13,620,"Fish biomass (kg/ha)",14,"middle",true);

// G
const pG=panel({x0:313.7,x4:496.7,y100:679,y1000:623.7,axisX:297.7,axisY:727.3,top:515.7,right:506.7,yLabels:false,yTicks:biomassTicksBottom,fits:[rocky(.18)]});
scatter(pG,gReefs,green,1.7);
caption(402,757,"Gravity",14);

// H
const pH=panel({x0:555.3,x4:738.7,y100:680.3,y1000:624.7,axisX:539.3,axisY:729.3,top:515.7,right:748.3,yLabels:false,yTicks:biomassTicksBottom,fits:[macro(.14)]});
scatter(pH,hReefs,red,1.7);
</script></body></html>
